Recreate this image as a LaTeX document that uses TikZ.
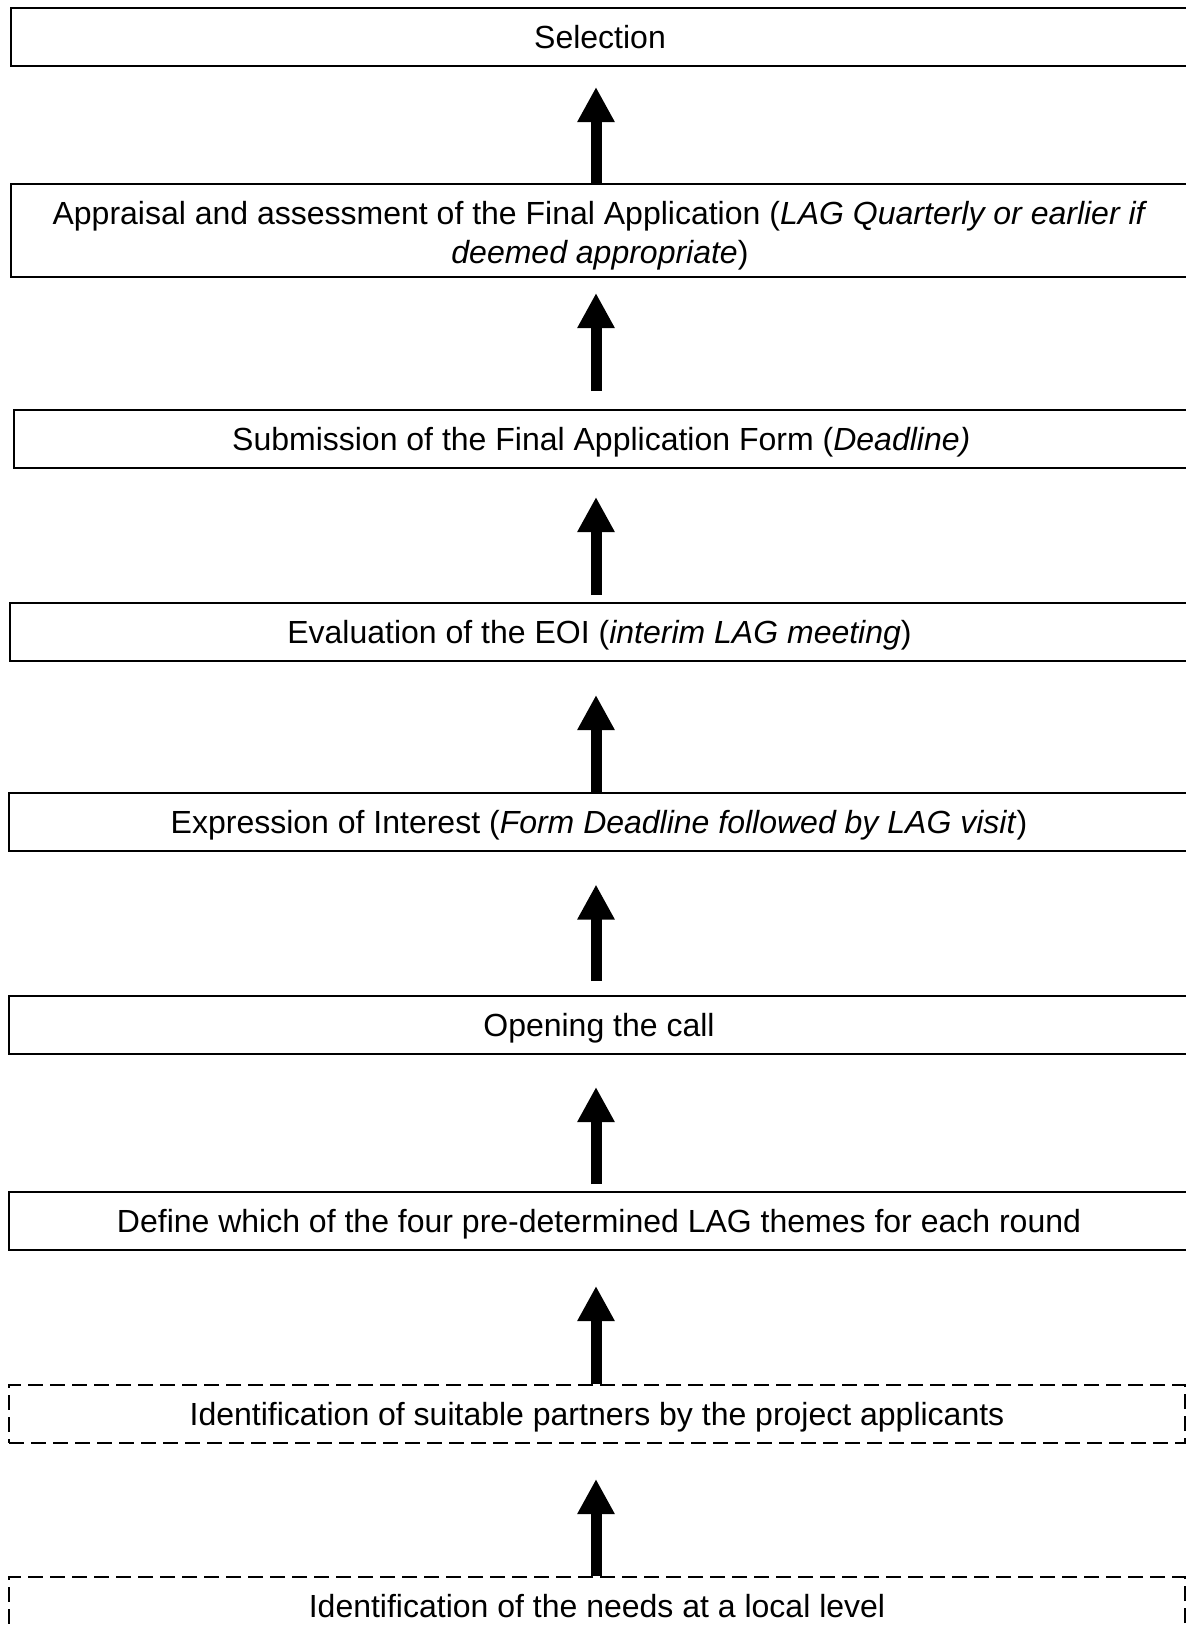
\documentclass[tikz,border=0pt]{standalone}
\usepackage{fontspec}
\setmainfont{Liberation Sans}
\usetikzlibrary{arrows.meta}

\begin{document}
\begin{tikzpicture}[x=0.5pt, y=-0.5pt,
    boxbase/.style={draw, line width=1pt, inner sep=0pt, minimum height=29pt, align=center,
        font=\fontsize{16}{19.5}\selectfont},
    stagebox/.style={boxbase, text height=11.6pt, text depth=0pt},
    localbox/.style={stagebox, dash pattern=on 7.5pt off 3.5pt},
    uparrow/.style={line width=5.5pt, -{Triangle[length=17.5pt, width=17.5pt]}}]
    		% page
    		\useasboundingbox (0,0) rectangle (1186,1630);
    		\coordinate (axis) at (596,0);
    		
    		% stages
    		\node[stagebox, minimum width=589pt] (sel) at (600,37) {Selection};
    		\node[boxbase, minimum width=589pt, minimum height=46.5pt] (appr) at (600,230.5)
    		    {\raisebox{-2.6pt}[\height][\depth]{\begin{tabular}{@{}c@{}}Appraisal and assessment of the Final Application (\textit{LAG Quarterly or earlier if}\\ \textit{deemed appropriate})\end{tabular}}};
    		\node[stagebox, minimum width=587.75pt] (subm) at (601.25,439) {Submission of the Final Application Form (\textit{Deadline)}};
    		\node[stagebox, minimum width=589.5pt] (eval) at (599.5,632) {Evaluation of the EOI (\textit{interim LAG meeting})};
    		\node[stagebox, minimum width=590pt] (expr) at (599,821.5) {Expression of Interest (\textit{Form Deadline followed by LAG visit})};
    		\node[stagebox, minimum width=590pt] (open) at (599,1025) {Opening the call};
    		\node[stagebox, minimum width=590pt] (define) at (599,1221) {Define which of the four pre-determined LAG themes for each round};
    		
    		% local stages
    		\node[localbox, minimum width=588pt] (partners) at (597,1414) {Identification of suitable partners by the project applicants};
    		\node[localbox, minimum width=588pt] (needs) at (597,1606) {Identification of the needs at a local level};
    		
    		% arrows
    		\draw[uparrow, shorten >=10pt] (appr.north -| axis) -- (sel.south -| axis);
    		\draw[uparrow, shorten <=9pt, shorten >=7.5pt] (subm.north -| axis) -- (appr.south -| axis);
    		\draw[uparrow, shorten <=3.5pt, shorten >=14pt] (eval.north -| axis) -- (subm.south -| axis);
    		\draw[uparrow, shorten >=16.5pt] (expr.north -| axis) -- (eval.south -| axis);
    		\draw[uparrow, shorten <=7pt, shorten >=16.5pt] (open.north -| axis) -- (expr.south -| axis);
    		\draw[uparrow, shorten <=3.5pt, shorten >=16pt] (define.north -| axis) -- (open.south -| axis);
    		\draw[uparrow, shorten >=17.5pt] (partners.north -| axis) -- (define.south -| axis);
    		\draw[uparrow, shorten >=17.5pt] (needs.north -| axis) -- (partners.south -| axis);
    	\end{tikzpicture}
\end{document}
